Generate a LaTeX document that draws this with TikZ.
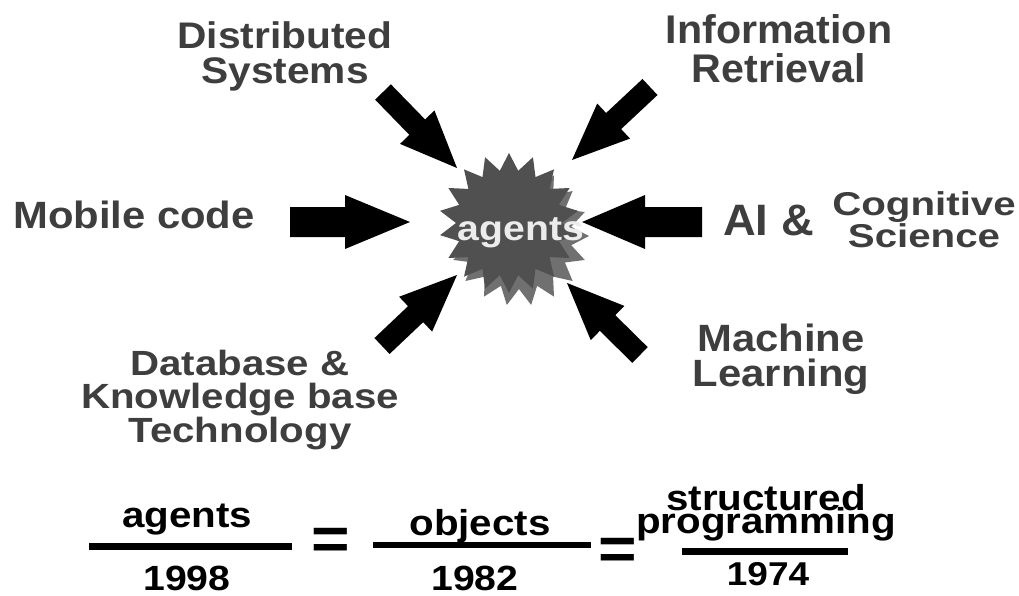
\documentclass[tikz,border=0pt]{standalone}
\usepackage{fontspec}
\setmainfont{Liberation Sans}
\newfontfamily\fA[FakeStretch=1.10]{Liberation Sans}
\newfontfamily\fB[FakeStretch=1.22]{Liberation Sans}
\newfontfamily\fC[FakeStretch=1.03]{Liberation Sans}
\newfontfamily\fD[FakeStretch=1.15]{Liberation Sans}
\newfontfamily\fE[FakeStretch=1.12]{Liberation Sans}
\usetikzlibrary{calc}

\definecolor{labelink}{RGB}{62,62,62}
\definecolor{starfront}{RGB}{80,80,80}
\definecolor{starback}{RGB}{112,112,112}
\definecolor{agentink}{RGB}{236,236,236}

% block arrow from a tail coordinate to a tip coordinate
% #1 tail, #2 tip, #3 half shaft width, #4 half head width, #5 head length
\newcommand\blockarrow[5]{%
  \coordinate (ba-base) at ($(#2)!#5!(#1)$);
  \fill[arrowink]
    ($(#1)!#3!90:(#2)$) -- ($(ba-base)!#3!90:(#2)$) -- ($(ba-base)!#4!90:(#2)$)
    -- (#2)
    -- ($(ba-base)!#4!-90:(#2)$) -- ($(ba-base)!#3!-90:(#2)$) -- ($(#1)!#3!-90:(#2)$)
    -- cycle;}

\tikzset{
  topic/.style={text=labelink, inner sep=0pt, align=center},
  eqtext/.style={text=black, inner sep=0pt, anchor=base},
  fracbar/.style={draw=black, line width=6.5pt},
  arrowink/.style={fill=black},
}

\begin{document}
\begin{tikzpicture}[x=1pt,y=-1pt]
\fill[white] (0,0) rectangle (1019,596);
\useasboundingbox (0,0) rectangle (1019,596);

% starburst: a lighter star behind a darker one
\coordinate (c) at (509,223);
\coordinate (cb) at (519,236);
\fill[starback,shift={(cb)}] (0:70)
  \foreach \a in {0,20,...,340}{ -- (\a+10:53) -- (\a+20:70)} -- cycle;
\fill[starfront,shift={(c)}] (10:70)
  \foreach \a in {10,30,...,350}{ -- (\a+10:53) -- (\a+20:70)} -- cycle;
\node[text=agentink, inner sep=0pt, anchor=base,
      font=\fE\bfseries\fontsize{35}{35}\selectfont] (agents) at (521,240) {agents};

% topic labels
\node[topic, anchor=north, font=\fA\bfseries\fontsize{37}{35}\selectfont]
  (dist) at (285,21) {Distributed\\Systems};
\node[topic, anchor=north, font=\fC\bfseries\fontsize{40}{39}\selectfont]
  (info) at (779,14) {Information\\Retrieval};
\node[topic, anchor=base west, font=\fA\bfseries\fontsize{38}{38}\selectfont]
  (mob) at (13,228) {Mobile code};
\node[topic, anchor=base west, font=\fC\bfseries\fontsize{44}{44}\selectfont]
  (ai) at (723,235) {AI \&};
\node[topic, anchor=north, font=\fB\bfseries\fontsize{33}{30}\selectfont]
  (cog) at (924,191) {Cognitive\\Science};
\node[topic, anchor=north, font=\fD\bfseries\fontsize{35}{33.5}\selectfont]
  (db) at (240,349.5) {Database \&\\Knowledge base\\Technology};
\node[topic, anchor=north, font=\fA\bfseries\fontsize{38}{35}\selectfont]
  (ml) at (781,324) {Machine\\Learning};

% arrows pointing into the starburst
\coordinate (mobT) at (290,222);  \coordinate (mobH) at (410,222);
\coordinate (aiT)  at (702,222);  \coordinate (aiH)  at (582,222);
\coordinate (distT) at (383,92);  \coordinate (distH) at (457,168);
\coordinate (infoT) at (650,87);  \coordinate (infoH) at (572,160);
\coordinate (dbT)  at (382,346);  \coordinate (dbH)  at (457,275);
\coordinate (mlT)  at (640,355);  \coordinate (mlH)  at (567,283);
\blockarrow{mobT}{mobH}{15pt}{27pt}{65pt}
\blockarrow{aiT}{aiH}{15pt}{27pt}{63pt}
\blockarrow{distT}{distH}{11pt}{24pt}{57pt}
\blockarrow{infoT}{infoH}{11pt}{24pt}{57pt}
\blockarrow{dbT}{dbH}{11pt}{24pt}{57pt}
\blockarrow{mlT}{mlH}{11pt}{24pt}{57pt}

% the proportion underneath
\node[eqtext, font=\fE\bfseries\fontsize{36}{36}\selectfont] (ag) at (187,527) {agents};
\coordinate (b1a) at (89,546.5);  \coordinate (b1b) at (292,546.5);
\draw[fracbar] (b1a) -- (b1b);
\node[eqtext, font=\fE\bfseries\fontsize{35}{35}\selectfont] (y98) at (187,590) {1998};
\node[eqtext, font=\fA\bfseries\fontsize{60}{60}\selectfont] (eq1) at (331,559) {=};

\node[eqtext, font=\fE\bfseries\fontsize{36}{36}\selectfont] (obj) at (480,535) {objects};
\coordinate (b2a) at (373,545);  \coordinate (b2b) at (591,545);
\draw[fracbar] (b2a) -- (b2b);
\node[eqtext, font=\fE\bfseries\fontsize{35}{35}\selectfont] (y82) at (475,590) {1982};
\node[eqtext, font=\fA\bfseries\fontsize{60}{60}\selectfont] (eq2) at (618,569) {=};

\node[eqtext, font=\fE\bfseries\fontsize{36}{36}\selectfont] (str) at (766,510) {structured};
\node[eqtext, font=\fE\bfseries\fontsize{36}{36}\selectfont] (prog) at (766,533) {programming};
\coordinate (b3a) at (682,551.5);  \coordinate (b3b) at (848,551.5);
\draw[fracbar] (b3a) -- (b3b);
\node[eqtext, font=\fE\bfseries\fontsize{33}{33}\selectfont] (y74) at (768,585) {1974};
\end{tikzpicture}
\end{document}
